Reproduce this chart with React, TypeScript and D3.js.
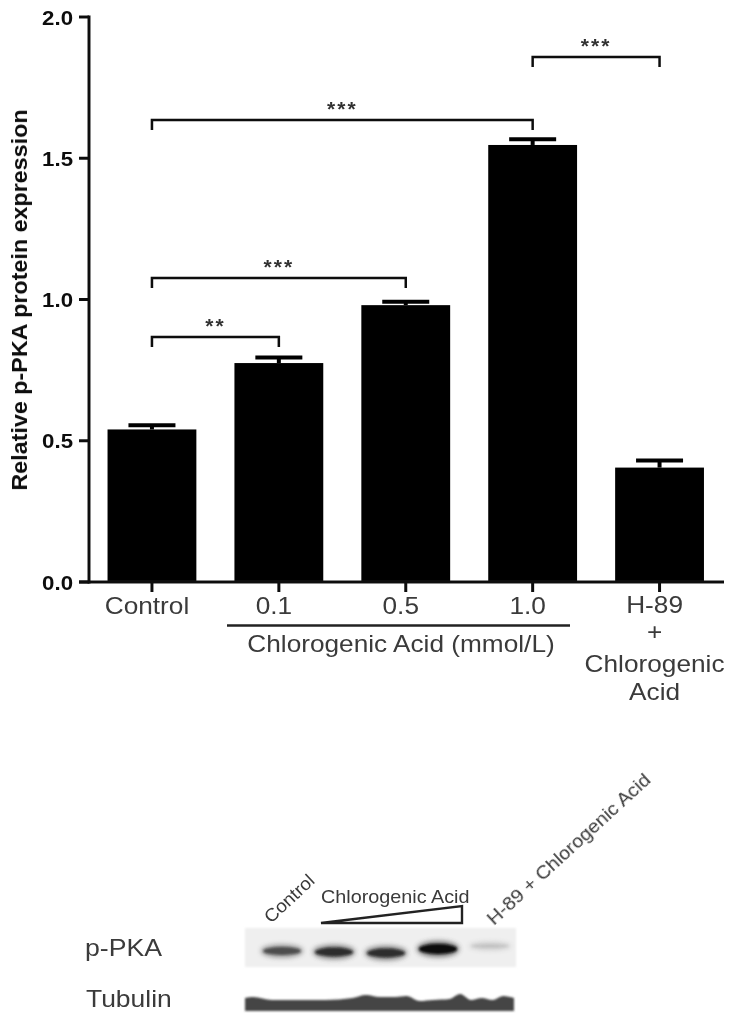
import * as d3 from "d3";
import type { ReactNode } from "react";

const groups = ["Control", "0.1", "0.5", "1.0", "H-89"];
const means = [0.54, 0.775, 0.98, 1.547, 0.405];
const errors = [0.015, 0.02, 0.012, 0.02, 0.025];
const yTicks = [0, 0.5, 1, 1.5, 2];
const brackets: [string, string, number, string][] = [
  ["Control", "0.1", 0.867, "**"],
  ["Control", "0.5", 1.076, "***"],
  ["Control", "1.0", 1.635, "***"],
  ["1.0", "H-89", 1.858, "***"],
];
const h89Label = ["H-89", "+", "Chlorogenic", "Acid"];

// blot densitometry, read by eye
const lanes = ["Control", "0.1", "0.5", "1.0", "H-89"];
const pkaDensity = [0.72, 0.85, 0.85, 1, 0.25];
const tubulinAlong = [0, 0.03, 0.1, 0.2, 0.3, 0.4, 0.45, 0.5, 0.56, 0.6, 0.65, 0.7, 0.76, 0.8, 0.84, 0.88, 0.92, 0.96, 1];
const tubulinTop = [998, 997, 1000, 1000, 1000, 998, 995, 997, 997, 996, 1001, 1000, 999, 994, 1000, 998, 1000, 996, 998];

const font = "'Liberation Sans', Arial, Helvetica, sans-serif";
const ink = "#3a3a3a";

// the source figure is stretched sideways, so the text has to be as well
function Label(props: {
  x: number;
  y: number;
  size: number;
  sx?: number;
  rotate?: number;
  anchor?: string;
  weight?: number;
  fill?: string;
  children: ReactNode;
}) {
  const { x, y, size, sx = 1.14, rotate = 0, anchor = "start", weight = 400, fill = ink, children } = props;
  return (
    <text
      transform={`translate(${x},${y}) rotate(${rotate}) scale(${sx},1)`}
      textAnchor={anchor}
      fontSize={size}
      fontWeight={weight}
      fill={fill}
    >
      {children}
    </text>
  );
}

export default function App() {
  const y = d3.scaleLinear().domain([0, 2]).range([582, 17]);
  const x = d3.scaleBand().domain(groups).range([88.5, 723]).paddingInner(0.3).paddingOuter(0.15);
  const cx = (g: string) => (x(g) as number) + x.bandwidth() / 2;

  const lane = d3.scaleBand().domain(lanes).range([256, 516]);
  const laneX = (l: string) => (lane(l) as number) + lane.bandwidth() / 2;
  const laneY = [951, 952, 953, 949, 946];
  const tubulinX = d3.scaleLinear().domain([0, 1]).range([245, 514]);
  const tubulinArea = d3
    .area<number>()
    .x((_, i) => tubulinX(tubulinAlong[i]))
    .y0(1011)
    .y1((d) => d)
    .curve(d3.curveMonotoneX);

  return (
    <svg
      width={731}
      height={1019}
      viewBox="0 0 731 1019"
      style={{ position: "absolute", left: 0, top: 0, background: "#fff" }}
      fontFamily={font}
    >
      <defs>
        <filter id="soft" x="-5%" y="-5%" width="110%" height="110%">
          <feGaussianBlur stdDeviation="0.6" />
        </filter>
        <filter id="band" x="-30%" y="-100%" width="160%" height="300%">
          <feGaussianBlur stdDeviation="2.4" />
        </filter>
        <filter id="core" x="-20%" y="-100%" width="140%" height="300%">
          <feGaussianBlur stdDeviation="1.2" />
        </filter>
        <filter id="edge" x="-5%" y="-30%" width="110%" height="160%">
          <feGaussianBlur stdDeviation="1" />
        </filter>
      </defs>

      <g filter="url(#soft)">
        {groups.map((g, i) => (
          <g key={g}>
            <rect x={x(g)} y={y(means[i])} width={x.bandwidth()} height={y(0) - y(means[i])} fill="#000" />
            <line x1={cx(g)} x2={cx(g)} y1={y(means[i])} y2={y(means[i] + errors[i])} stroke="#000" strokeWidth={4} />
            <line
              x1={cx(g) - 23.5}
              x2={cx(g) + 23.5}
              y1={y(means[i] + errors[i])}
              y2={y(means[i] + errors[i])}
              stroke="#000"
              strokeWidth={4}
            />
          </g>
        ))}

        {/* axes */}
        <line x1={89} x2={89} y1={y(2) - 1.5} y2={y(0) + 1.5} stroke="#111" strokeWidth={3} />
        <line x1={79} x2={724} y1={y(0)} y2={y(0)} stroke="#111" strokeWidth={3} />
        {yTicks.map((t) => (
          <g key={t}>
            <line x1={79} x2={89} y1={y(t)} y2={y(t)} stroke="#111" strokeWidth={3} />
            <Label x={73} y={y(t) + 7.5} size={21} sx={1.06} anchor="end" weight={700} fill="#111">
              {d3.format(".1f")(t)}
            </Label>
          </g>
        ))}
        {groups.map((g) => (
          <line key={g} x1={cx(g)} x2={cx(g)} y1={582} y2={592} stroke="#111" strokeWidth={3} />
        ))}

        <Label x={27} y={300} size={22} sx={1.06} rotate={-90} anchor="middle" weight={700} fill="#111">
          Relative p-PKA protein expression
        </Label>

        {/* x labels */}
        {groups.slice(0, 4).map((g) => (
          <Label key={g} x={cx(g) - 5} y={614} size={23} anchor="middle">
            {g}
          </Label>
        ))}
        {h89Label.map((t, i) => (
          <Label key={t} x={cx("H-89") - 5} y={[613, 640, 672, 700][i]} size={23} anchor="middle">
            {t}
          </Label>
        ))}
        <line x1={227} x2={570} y1={625.5} y2={625.5} stroke="#222" strokeWidth={2.5} />
        <Label x={401} y={652} size={23} anchor="middle">
          Chlorogenic Acid (mmol/L)
        </Label>

        {/* significance brackets */}
        {brackets.map(([a, b, v, stars]) => (
          <g key={a + b}>
            <path
              d={`M${cx(a)},${y(v) + 10}V${y(v)}H${cx(b)}V${y(v) + 10}`}
              fill="none"
              stroke="#111"
              strokeWidth={2.5}
            />
            <text
              x={(cx(a) + cx(b)) / 2}
              y={y(v) - 4}
              textAnchor="middle"
              fontSize={21}
              fontWeight={700}
              letterSpacing={2}
              fill="#333"
            >
              {stars}
            </text>
          </g>
        ))}

        {/* blot labels */}
        <Label x={85} y={956} size={23} sx={1.16}>p-PKA</Label>
        <Label x={86} y={1007} size={23} sx={1.15}>Tubulin</Label>
        <Label x={271} y={924} size={18} sx={1.06} rotate={-43}>Control</Label>
        <Label x={321} y={903} size={18} sx={1.1}>Chlorogenic Acid</Label>
        <Label x={494} y={926} size={18} sx={1.1} rotate={-42.5}>H-89 + Chlorogenic Acid</Label>
        <path d="M321,923L462,906V923Z" fill="none" stroke="#222" strokeWidth={2.4} />
      </g>

      {/* p-PKA blot */}
      <rect x={245} y={928} width={271} height={39} fill="#efefef" filter="url(#edge)" />
      {lanes.map((l, i) => (
        <g key={l}>
          <ellipse
            cx={laneX(l)}
            cy={laneY[i]}
            rx={21}
            ry={3 + 5 * pkaDensity[i]}
            fill="#444"
            opacity={pkaDensity[i] * 0.75}
            filter="url(#band)"
          />
          <ellipse
            cx={laneX(l)}
            cy={laneY[i]}
            rx={19}
            ry={1 + 4 * pkaDensity[i]}
            fill="#111"
            opacity={pkaDensity[i] * pkaDensity[i]}
            filter="url(#core)"
          />
        </g>
      ))}

      {/* tubulin blot */}
      <path d={tubulinArea(tubulinTop) as string} fill="#454545" filter="url(#edge)" />
    </svg>
  );
}
